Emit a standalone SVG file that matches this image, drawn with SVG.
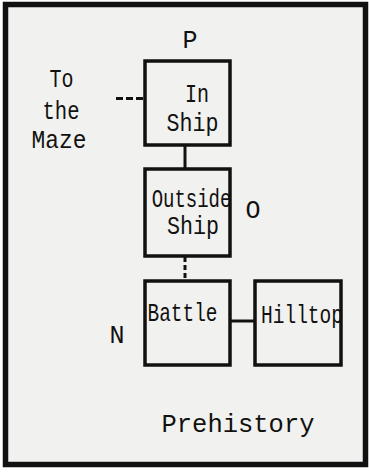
<svg xmlns="http://www.w3.org/2000/svg" width="369" height="473" viewBox="0 0 369 473">
<style>
.box{fill:none;stroke:#111;stroke-width:3.5}
.t{font-family:"Liberation Mono","DejaVu Sans Mono",monospace;font-size:25px;fill:#111}
.c{stroke:#111;stroke-width:3;fill:none}
.d{stroke:#111;stroke-width:3;fill:none;stroke-dasharray:7 3}
.d2{stroke:#111;stroke-width:3;fill:none;stroke-dasharray:5 3}
</style>
<rect x="0" y="0" width="369" height="473" fill="#ffffff"/>
<rect id="frame" x="5.5" y="4.5" width="360" height="460" fill="#f1f1ef" stroke="#111" stroke-width="5.5"/>
<g id="connectors">
<line class="c" x1="185" y1="145" x2="185" y2="169"/>
<line class="d2" x1="185" y1="257" x2="185" y2="281"/>
<line class="c" x1="230" y1="321" x2="255" y2="321"/>
<line class="d" x1="116" y1="98.5" x2="145" y2="98.5"/>
</g>
<g id="in-ship">
<rect class="box" x="145" y="61" width="85" height="84"/>
<text class="t" x="197" y="102" text-anchor="middle" textLength="24" lengthAdjust="spacingAndGlyphs">In</text>
<text class="t" x="192.5" y="131" text-anchor="middle" textLength="52" lengthAdjust="spacingAndGlyphs">Ship</text>
</g>
<g id="outside-ship">
<rect class="box" x="145" y="169" width="85" height="87"/>
<text class="t" transform="translate(191.5,207) scale(0.76,1)" x="0" y="0" text-anchor="middle">Outside</text>
<text class="t" x="193" y="234" text-anchor="middle" textLength="52" lengthAdjust="spacingAndGlyphs">Ship</text>
</g>
<g id="battle">
<rect class="box" x="145" y="281" width="85" height="84"/>
<text class="t" x="182.5" y="321" text-anchor="middle" textLength="70" lengthAdjust="spacingAndGlyphs">Battle</text>
</g>
<g id="hilltop">
<rect class="box" x="255" y="281" width="86" height="84"/>
<text class="t" x="302" y="323" text-anchor="middle" textLength="82" lengthAdjust="spacingAndGlyphs">Hilltop</text>
</g>
<g id="labels">
<text class="t" x="190" y="48" text-anchor="middle">P</text>
<text class="t" x="253" y="218" text-anchor="middle">O</text>
<text class="t" x="117" y="343" text-anchor="middle">N</text>
<text class="t" x="61.5" y="87" text-anchor="middle" textLength="24" lengthAdjust="spacingAndGlyphs">To</text>
<text class="t" x="61" y="119" text-anchor="middle" textLength="37" lengthAdjust="spacingAndGlyphs">the</text>
<text class="t" x="59" y="148" text-anchor="middle" textLength="55" lengthAdjust="spacingAndGlyphs">Maze</text>
<text class="t" x="238" y="432" text-anchor="middle" textLength="153" lengthAdjust="spacingAndGlyphs">Prehistory</text>
</g>
</svg>
